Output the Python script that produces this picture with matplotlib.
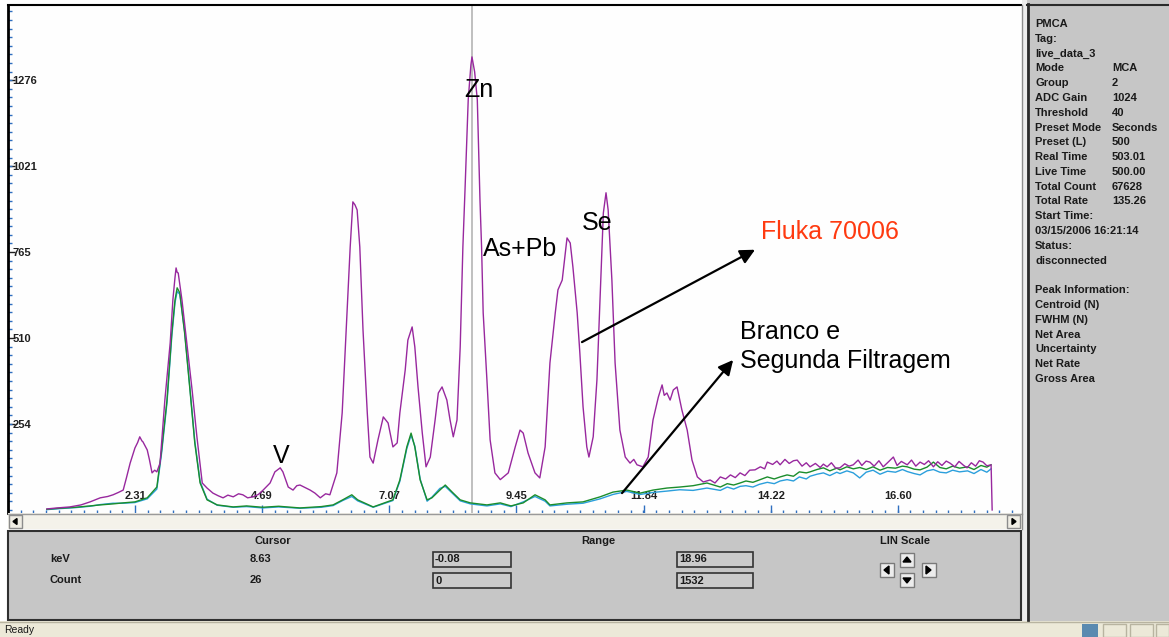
# XRF spectrum screenshot (PMCA) - Fluka 70006 vs branco / segunda filtragem

import numpy as np
import matplotlib.pyplot as plt
from matplotlib.patches import Rectangle, Polygon

# Spectrum readings (keV, counts)
fluka_kev = [0.66, 0.85, 1.09, 1.30, 1.47, 1.66, 1.80, 1.90, 2.00, 2.09, 2.15, 2.22, 2.31, 2.36,
             2.40, 2.44, 2.46, 2.54, 2.58, 2.63, 2.68, 2.72, 2.78, 2.87, 2.97, 3.02, 3.06, 3.08,
             3.10, 3.12, 3.19, 3.28, 3.38, 3.47, 3.57, 3.66, 3.77, 3.87, 3.96, 4.05, 4.15, 4.25,
             4.33, 4.42, 4.52, 4.62, 4.71, 4.84, 4.93, 5.03, 5.08, 5.18, 5.27, 5.34, 5.40, 5.50,
             5.59, 5.68, 5.78, 5.88, 5.96, 6.09, 6.19, 6.28, 6.34, 6.39, 6.43, 6.47, 6.52, 6.58,
             6.66, 6.71, 6.77, 6.86, 6.96, 7.05, 7.14, 7.22, 7.27, 7.37, 7.42, 7.50, 7.55, 7.61,
             7.69, 7.76, 7.84, 7.93, 7.99, 8.06, 8.15, 8.21, 8.27, 8.34, 8.40, 8.45, 8.49, 8.55,
             8.60, 8.62, 8.67, 8.72, 8.77, 8.80, 8.83, 8.90, 8.96, 9.05, 9.15, 9.30, 9.43, 9.52,
             9.58, 9.67, 9.80, 9.89, 9.99, 10.08, 10.18, 10.23, 10.31, 10.36, 10.40, 10.46, 10.51,
             10.59, 10.64, 10.70, 10.77, 10.81, 10.89, 10.96, 11.02, 11.08, 11.13, 11.17, 11.24,
             11.30, 11.39, 11.49, 11.58, 11.65, 11.71, 11.82, 11.92, 12.01, 12.11, 12.18, 12.22,
             12.27, 12.33, 12.39, 12.46, 12.55, 12.65, 12.74, 12.84, 12.95, 13.08, 13.17, 13.27,
             13.37, 13.46, 13.55, 13.64, 13.73, 13.82, 13.92, 14.02, 14.10, 14.15, 14.25, 14.33,
             14.39, 14.48, 14.56, 14.64, 14.71, 14.80, 14.88, 14.95, 15.05, 15.14, 15.20, 15.27,
             15.35, 15.43, 15.51, 15.60, 15.68, 15.76, 15.85, 15.92, 16.00, 16.07, 16.15, 16.24,
             16.32, 16.40, 16.51, 16.58, 16.66, 16.77, 16.85, 16.93, 17.01, 17.09, 17.17, 17.26,
             17.34, 17.42, 17.50, 17.57, 17.66, 17.74, 17.82, 17.89, 17.97, 18.05, 18.12, 18.19,
             18.26, 18.34, 18.36]
fluka_cnt = [3, 6, 9, 15, 24, 36, 40, 45, 52, 59, 95, 139, 184, 200,
             217, 205, 202, 178, 150, 110, 118, 113, 139, 326, 496, 623, 690, 718,
             705, 703, 623, 496, 356, 217, 80, 65, 50, 42, 36, 44, 39, 48,
             45, 36, 39, 46, 59, 80, 113, 125, 113, 68, 59, 72, 74, 66,
             59, 50, 36, 48, 45, 110, 288, 585, 780, 914, 905, 890, 780, 534,
             288, 157, 139, 208, 276, 258, 187, 199, 288, 415, 504, 543, 484, 365,
             228, 128, 157, 267, 347, 365, 326, 267, 217, 267, 484, 780, 950, 1217,
             1320, 1344, 1300, 1217, 920, 780, 585, 386, 208, 110, 90, 110, 187, 237,
             228, 169, 110, 95, 187, 436, 585, 653, 682, 751, 807, 792, 721,
             585, 466, 306, 187, 157, 217, 386, 632, 881, 941, 890, 682,
             436, 237, 157, 139, 150, 134, 128, 157, 267, 335, 371, 340,
             347, 326, 356, 365, 297, 237, 148, 98, 83, 89, 80, 98,
             92, 104, 96, 110, 102, 118, 119, 128, 122, 142, 135, 145,
             134, 150, 138, 146, 148, 130, 140, 128, 138, 126, 136, 128,
             140, 124, 125, 137, 130, 134, 148, 132, 145, 142, 130, 146,
             128, 140, 157, 132, 144, 134, 148, 130, 142, 135, 146, 128,
             143, 132, 145, 139, 128, 144, 133, 125, 140, 130, 146, 142,
             131, 134, 0]

green_kev = [0.66, 0.90, 1.20, 1.47, 1.66, 1.90, 2.09, 2.31, 2.54, 2.72, 2.81, 2.91, 3.00, 3.06,
             3.10, 3.15, 3.24, 3.34, 3.43, 3.53, 3.66, 3.85, 4.15, 4.40, 4.70, 5.00, 5.40, 5.80,
             6.02, 6.20, 6.37, 6.48, 6.77, 7.14, 7.27, 7.40, 7.48, 7.55, 7.65, 7.78, 7.87, 8.02,
             8.12, 8.25, 8.40, 8.59, 8.90, 9.15, 9.35, 9.58, 9.80, 9.99, 10.08, 10.40, 10.70,
             11.02, 11.26, 11.52, 11.77, 12.01, 12.27, 12.51, 12.76, 13.02, 13.27, 13.40, 13.52,
             13.64, 13.75, 13.88, 14.00, 14.15, 14.28, 14.39, 14.52, 14.64, 14.75, 14.88, 14.95,
             15.08, 15.20, 15.32, 15.45, 15.51, 15.64, 15.76, 15.88, 16.00, 16.13, 16.26, 16.40,
             16.55, 16.68, 16.77, 16.90, 17.01, 17.14, 17.26, 17.38, 17.50, 17.62, 17.75, 17.90,
             18.02, 18.15, 18.26, 18.34]
green_cnt = [2, 5, 8, 12, 15, 18, 21, 24, 36, 68, 178, 326, 525, 623,
             659, 644, 525, 356, 199, 80, 30, 15, 9, 12, 8, 11, 6, 10,
             15, 30, 45, 30, 9, 30, 89, 187, 228, 187, 89, 30, 36, 59,
             74, 53, 30, 21, 15, 21, 12, 21, 45, 30, 15, 21, 24,
             39, 53, 59, 50, 59, 65, 68, 72, 80, 68, 78, 74,
             80, 86, 82, 89, 98, 92, 98, 104, 100, 113, 110, 113,
             120, 125, 116, 124, 119, 128, 122, 126, 120, 128, 118, 126,
             124, 130, 128, 121, 119, 127, 142, 126, 122, 130, 124, 128,
             120, 132, 127, 134]

blue_kev = green_kev
blue_cnt = [1, 4, 7, 11, 16, 20, 20, 22, 33, 62, 170, 318, 515, 615,
            648, 640, 530, 360, 205, 84, 32, 14, 8, 10, 6, 9, 5, 8,
            13, 28, 40, 27, 8, 28, 85, 182, 222, 190, 92, 26, 38, 64,
            70, 50, 27, 18, 12, 18, 10, 24, 40, 26, 12, 17, 20,
            33, 46, 55, 46, 52, 56, 60, 58, 65, 58, 68, 62,
            70, 72, 68, 76, 82, 78, 86, 90, 86, 98, 92, 100,
            106, 110, 102, 112, 108, 116, 110, 95, 112, 118, 106, 115,
            112, 120, 114, 108, 104, 116, 120, 112, 110, 118, 113, 116,
            108, 120, 112, 122]

x_tick_vals = [2.31, 4.69, 7.07, 9.45, 11.84, 14.22, 16.60]
y_tick_vals = [254, 510, 765, 1021, 1276]

cursor_kev = 8.63
cursor_count = 26
range_lo = ['-0.08', '0']
range_hi = ['18.96', '1532']

info_rows = [('PMCA', ''), ('Tag:', ''), ('live_data_3', ''), ('Mode', 'MCA'), ('Group', '2'),
             ('ADC Gain', '1024'), ('Threshold', '40'), ('Preset Mode', 'Seconds'),
             ('Preset (L)', '500'), ('Real Time', '503.01'), ('Live Time', '500.00'),
             ('Total Count', '67628'), ('Total Rate', '135.26'), ('Start Time:', ''),
             ('03/15/2006 16:21:14', ''), ('Status:', ''), ('disconnected', ''), ('', ''),
             ('Peak Information:', ''), ('Centroid (N)', ''), ('FWHM (N)', ''), ('Net Area', ''),
             ('Uncertainty', ''), ('Net Rate', ''), ('Gross Area', '')]

W, H = 1169, 637
ui_font = 'Liberation Sans'
panel_gray = '#c6c6c6'
tick_blue = '#2f6fc0'

fig = plt.figure(figsize=(W / 100, H / 100), dpi=100)
fig.patch.set_facecolor('white')

# main spectrum area
ax = fig.add_axes([8 / W, (H - 513) / H, 1013 / W, 508 / H])
ax.set_facecolor('#fefefe')
ax.set_xlim(-0.067, 18.90)
ax.set_ylim(-9, 1498)

ax.plot(blue_kev, blue_cnt, color='#2b9fdc', lw=1.0)
ax.plot(green_kev, green_cnt, color='#1b8d2c', lw=1.0)
ax.plot(fluka_kev, fluka_cnt, color='#98289e', lw=1.0)
ax.axvline(cursor_kev, color='#b4b4b4', lw=1.2, zorder=0)

for s in ['right', 'bottom']:
    ax.spines[s].set_visible(False)
ax.spines['left'].set_linewidth(2)
ax.spines['top'].set_linewidth(1.5)

ax.set_xticks(x_tick_vals)
ax.set_xticklabels(['%.2f' % v for v in x_tick_vals], fontsize=8, fontweight='bold',
                   family=ui_font, color='#202020')
ax.set_xticks(np.arange(0.168, 18.9, 0.238), minor=True)
ax.tick_params(axis='x', which='major', direction='in', length=6, width=1,
               color=tick_blue, pad=-12)
ax.tick_params(axis='x', which='minor', direction='in', length=2.5, width=1, color=tick_blue)
for lbl in ax.get_xticklabels():
    lbl.set_va('center')

ax.set_yticks(y_tick_vals)
ax.set_yticklabels([str(v) for v in y_tick_vals], fontsize=8, fontweight='bold',
                   family=ui_font, color='#202020')
ax.set_yticks(np.arange(0, 1498, 25.5), minor=True)
ax.tick_params(axis='y', which='major', direction='in', length=5, width=1,
               color='#202020', pad=-3)
ax.tick_params(axis='y', which='minor', direction='in', length=3, width=1, color=tick_blue)
for lbl in ax.get_yticklabels():
    lbl.set_ha('left')

# peak labels and arrows
lab = dict(family=ui_font, fontsize=18, color='black')
ax.text(8.75, 1246, 'Zn', ha='center', va='center', **lab)
ax.text(9.52, 774, 'As+Pb', ha='center', va='center', **lab)
ax.text(10.96, 852, 'Se', ha='center', va='center', **lab)
ax.text(5.04, 160, 'V', ha='center', va='center', **lab)
ax.text(14.04, 825, 'Fluka 70006', ha='left', va='center', family=ui_font,
        fontsize=18, color='#ff3a10')
ax.text(13.64, 484, 'Branco e\nSegunda Filtragem', ha='left', va='center',
        linespacing=1.25, **lab)
arrow = dict(arrowstyle='-|>', color='black', lw=1.6, mutation_scale=22, shrinkA=0, shrinkB=0)
ax.annotate('', xy=(13.92, 772), xytext=(10.68, 498), arrowprops=arrow)
ax.annotate('', xy=(13.51, 445), xytext=(11.43, 50), arrowprops=arrow)

# window chrome drawn in pixel coordinates
ov = fig.add_axes([0, 0, 1, 1])
ov.set_xlim(0, W)
ov.set_ylim(H, 0)
ov.axis('off')
ov.patch.set_alpha(0)


def box(x0, y0, x1, y1, fc, ec='none', lw=1.0):
    ov.add_patch(Rectangle((x0, y0), x1 - x0, y1 - y0, facecolor=fc, edgecolor=ec, lw=lw))


def txt(x, y, s, **kw):
    kw.setdefault('fontsize', 8)
    kw.setdefault('fontweight', 'bold')
    kw.setdefault('color', '#1a1a1a')
    ov.text(x, y, s, family=ui_font, va='center', **kw)


# scrollbar
box(8, 513, 1022, 529, '#f4f2ea')
ov.plot([8, 1022], [513.5, 513.5], color='#9a9a9a', lw=1)
box(9, 515, 22, 528, '#efede4', ec='#8c8c8c')
box(1007, 515, 1020, 528, '#efede4', ec='#8c8c8c')
ov.add_patch(Polygon([[13, 521.5], [17, 518.5], [17, 524.5]], color='black'))
ov.add_patch(Polygon([[1016, 521.5], [1012, 518.5], [1012, 524.5]], color='black'))
ov.plot([1021.5, 1021.5], [5, 529], color='#8c8c8c', lw=1)

# right info panel
box(1022, 0, 1027, 621, '#ececec')
box(1027, 0, W, 621, panel_gray)
ov.plot([1027.5, 1027.5], [4, 621], color='#2a2a2a', lw=2)
ov.plot([1027, W], [5, 5], color='#2a2a2a', lw=1.5)
for i, (a, b) in enumerate(info_rows):
    y = 24 + i * 14.79
    txt(1035, y, a)
    if b:
        txt(1112, y, b)

# bottom cursor / range panel
box(8, 531, 1021, 620, panel_gray, ec='#303030', lw=1.5)
txt(273, 541, 'Cursor', ha='center')
txt(598, 541, 'Range', ha='center')
txt(905, 541, 'LIN Scale', ha='center')
txt(50, 559, 'keV')
txt(50, 580, 'Count')
txt(250, 559, '%.2f' % cursor_kev)
txt(250, 580, str(cursor_count))
for (x0, x1), vals in [((433, 511), range_lo), ((677, 753), range_hi)]:
    for y0, v in zip([552, 573], vals):
        box(x0, y0, x1, y0 + 15, '#cbcbcb', ec='#333333', lw=1.2)
        txt(x0 + 2, y0 + 7.5, v)

# arrow buttons
for (bx, by), tri in [((900, 553), [[907, 557], [903, 562], [911, 562]]),
                      ((900, 573), [[907, 583], [903, 578], [911, 578]]),
                      ((880, 563), [[884, 570], [889, 566], [889, 574]]),
                      ((922, 563), [[931, 570], [926, 566], [926, 574]])]:
    box(bx, by, bx + 14, by + 14, '#ececec', ec='#7a7a7a')
    ov.add_patch(Polygon(tri, color='black'))

# status bar
box(0, 621, W, H, '#ece9d8')
ov.plot([0, W], [621.5, 621.5], color='#b8b4a0', lw=1)
txt(4, 630, 'Ready', fontweight='normal', fontsize=7.5)
box(1082, 624, 1098, 637, '#5a8ab0')
for x0, x1 in [(1103, 1126), (1130, 1153), (1156, 1169)]:
    box(x0, 624, x1, 637, '#ece9d8', ec='#b8b4a0')

fig.savefig('out.png', dpi=100)
